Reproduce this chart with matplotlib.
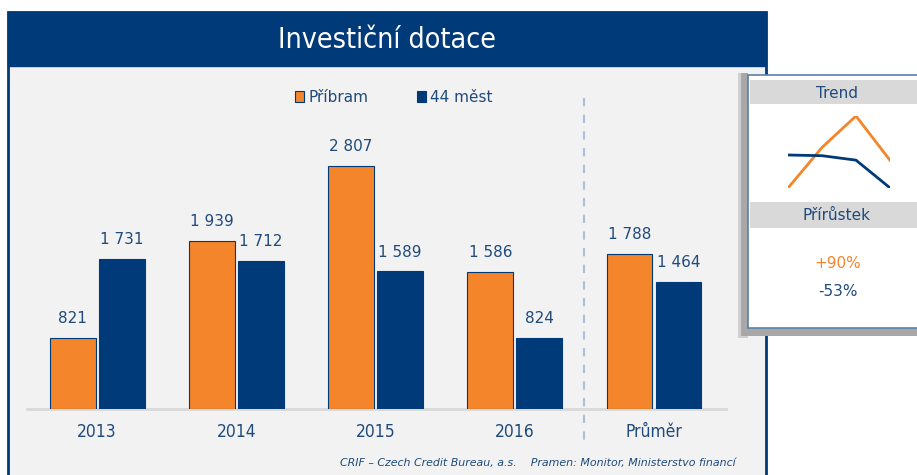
import matplotlib
matplotlib.use("Agg")
import matplotlib.pyplot as plt
from matplotlib.patches import Rectangle
from matplotlib.lines import Line2D

# ---- data ----
categories = ["2013", "2014", "2015", "2016", "Průměr"]
pribram = [821, 1939, 2807, 1586, 1788]
mest44 = [1731, 1712, 1589, 824, 1464]
trend_years = [2013, 2014, 2015, 2016]
trend_pribram = [821, 1939, 2807, 1586]
trend_mest44 = [1731, 1712, 1589, 824]
series_names = ["Příbram", "44 měst"]
growth_labels = ["+90%", "-53%"]
title = "Investiční dotace"
footer = "CRIF – Czech Credit Bureau, a.s.    Pramen: Monitor, Ministerstvo financí"

ORANGE = "#F5852A"
BLUE = "#003A78"
TXT = "#1F4A7C"
BG = "#F2F2F2"

W, H = 917, 475
fig = plt.figure(figsize=(W / 100, H / 100), dpi=100)
fig.patch.set_facecolor("white")

def fx(px):
    return px / W

def fy(py):
    return 1 - py / H

def frect(x0, y0, x1, y1, **kw):
    r = Rectangle((fx(x0), fy(y1)), fx(x1) - fx(x0), fy(y0) - fy(y1),
                  transform=fig.transFigure, **kw)
    fig.add_artist(r)
    return r

# panel
frect(8, 12, 766, 480, facecolor=BG, edgecolor=BLUE, linewidth=2, zorder=0)
frect(8, 12, 766, 66, facecolor=BLUE, edgecolor=BLUE, linewidth=1, zorder=1)
fig.text(fx(387), fy(40), title, color="white", fontsize=20.5, ha="center",
         va="center", fontstretch="condensed", zorder=2)

# main axes
ax = fig.add_axes([fx(27), fy(409), fx(726) - fx(27), fy(80) - fy(409)])
ax.set_facecolor("none")
x = list(range(len(categories)))
bw = 0.33
off = 0.176
b1 = ax.bar([i - off for i in x], pribram, width=bw, color=ORANGE,
            edgecolor=BLUE, linewidth=0.8, label=series_names[0], zorder=3)
b2 = ax.bar([i + off for i in x], mest44, width=bw, color=BLUE,
            edgecolor=BLUE, linewidth=0.8, label=series_names[1], zorder=3)

def fmt(v):
    return f"{v:,}".replace(",", " ")

for i, v in enumerate(pribram):
    ax.annotate(fmt(v), (i - off, v), xytext=(0, 8.5), textcoords="offset points",
                ha="center", va="bottom", fontsize=11, color=TXT)
for i, v in enumerate(mest44):
    ax.annotate(fmt(v), (i + off, v), xytext=(0, 8.5), textcoords="offset points",
                ha="center", va="bottom", fontsize=11, color=TXT)

ax.set_xlim(-0.503, 4.517)
ax.set_ylim(0, 3800)
for s in ["top", "right", "left"]:
    ax.spines[s].set_visible(False)
ax.spines["bottom"].set_color("#D9D9D9")
ax.spines["bottom"].set_linewidth(2)
ax.set_yticks([])
ax.set_xticks(x)
ax.set_xticklabels(categories, fontsize=12.5, color=TXT, fontstretch="condensed")
ax.tick_params(axis="x", length=0, pad=10)

leg = ax.legend(loc="center", bbox_to_anchor=(fx(394), fy(97)),
                bbox_transform=fig.transFigure, ncol=2, frameon=False,
                fontsize=11, handlelength=0.6, handleheight=0.7,
                handletextpad=0.25, columnspacing=3.2)
for t in leg.get_texts():
    t.set_color(TXT)

# divider
fig.add_artist(Line2D([fx(584), fx(584)], [fy(98), fy(440)], transform=fig.transFigure,
                      color="#A9C0DD", linewidth=1.5, linestyle=(0, (4, 4))))

# footer
fig.text(fx(736), fy(463), footer, fontsize=7.9, style="italic", color=TXT,
         ha="right", va="center")

# trend box with shadow
frect(738, 73, 748, 338, facecolor="#D0D0D0", edgecolor="none", zorder=3)
frect(741, 73, 748, 336, facecolor="#A8A8A8", edgecolor="none", zorder=3)
frect(741, 328, 920, 336, facecolor="#A8A8A8", edgecolor="none", zorder=3)
frect(748, 75, 925, 328, facecolor="white", edgecolor="#5B7FA8", linewidth=1.2, zorder=4)
frect(750, 80, 920, 104, facecolor="#D9D9D9", edgecolor="none", zorder=5)
frect(750, 202, 920, 228, facecolor="#D9D9D9", edgecolor="none", zorder=5)
fig.text(fx(837), fy(93), "Trend", fontsize=11, color=TXT, ha="center", va="center", zorder=6)
fig.text(fx(837), fy(216), "Přírůstek", fontsize=11, color=TXT, ha="center", va="center", zorder=6)
fig.text(fx(838), fy(263), growth_labels[0], fontsize=11, color=ORANGE, ha="center", va="center", zorder=6)
fig.text(fx(838), fy(292), growth_labels[1], fontsize=11, color=TXT, ha="center", va="center", zorder=6)

tax = fig.add_axes([fx(788), fy(188), fx(890) - fx(788), fy(116) - fy(188)], zorder=7)
tax.plot(trend_years, trend_pribram, color=ORANGE, linewidth=2)
tax.plot(trend_years, trend_mest44, color=BLUE, linewidth=2)
tax.set_xlim(min(trend_years), max(trend_years))
lo = min(trend_pribram + trend_mest44)
hi = max(trend_pribram + trend_mest44)
tax.set_ylim(lo, hi)
tax.axis("off")

fig.savefig("out.png", dpi=100, facecolor="white")
